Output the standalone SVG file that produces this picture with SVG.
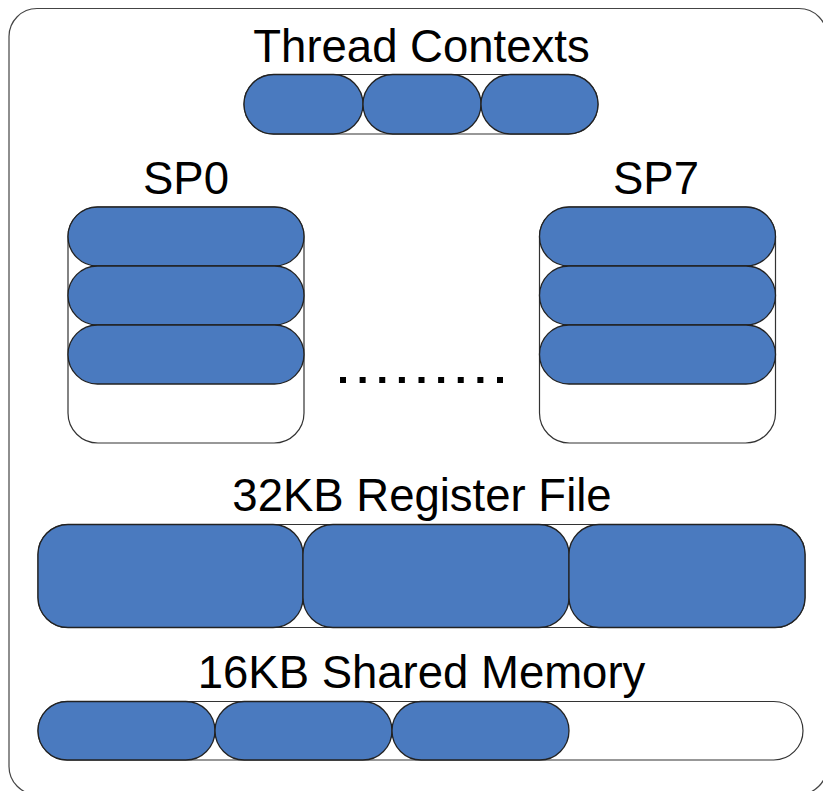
<svg xmlns="http://www.w3.org/2000/svg" width="823" height="791" viewBox="0 0 823 791">
<style>
.bg{fill:#ffffff}
.frame{fill:none;stroke:#444;stroke-width:1.2}
.box{fill:#ffffff;stroke:#333;stroke-width:1.2}
.pill{fill:#4a7abf;stroke:#222;stroke-width:1.3}
.lbl{font-family:"Liberation Sans",Arial,sans-serif;font-size:45.5px;fill:#000;text-anchor:middle}
</style>
<rect class="bg" x="0" y="0" width="823" height="791"/>
<g id="frame"><rect class="frame" x="9" y="8.5" width="818" height="786" rx="28"/></g>
<g id="thread-contexts">
<text class="lbl" x="421.5" y="62">Thread Contexts</text>
<rect class="box" x="244" y="74.5" width="354" height="59.5" rx="29.75"/>
<rect class="pill" x="244" y="74.5" width="119" height="59.5" rx="29.75"/>
<rect class="pill" x="363" y="74.5" width="118" height="59.5" rx="29.75"/>
<rect class="pill" x="481" y="74.5" width="117" height="59.5" rx="29.75"/>
</g>
<g id="sp0">
<text class="lbl" x="186" y="194">SP0</text>
<rect class="box" x="68" y="207" width="236" height="236" rx="30"/>
<rect class="pill" x="68" y="207" width="236" height="59" rx="29.5"/>
<rect class="pill" x="68" y="266" width="236" height="59" rx="29.5"/>
<rect class="pill" x="68" y="325" width="236" height="59" rx="29.5"/>
</g>
<g id="sp7">
<text class="lbl" x="656" y="194">SP7</text>
<rect class="box" x="539.5" y="207" width="236" height="236" rx="30"/>
<rect class="pill" x="539.5" y="207" width="236" height="59" rx="29.5"/>
<rect class="pill" x="539.5" y="266" width="236" height="59" rx="29.5"/>
<rect class="pill" x="539.5" y="325" width="236" height="59" rx="29.5"/>
</g>
<g id="ellipsis"><line x1="340" y1="380" x2="503" y2="380" stroke="#000" stroke-width="6" stroke-dasharray="6 13.625"/></g>
<g id="register-file">
<text class="lbl" x="422" y="511">32KB Register File</text>
<rect class="box" x="38" y="524.5" width="767" height="103" rx="30"/>
<rect class="pill" x="38" y="524.5" width="265" height="103" rx="30"/>
<rect class="pill" x="303" y="524.5" width="266" height="103" rx="30"/>
<rect class="pill" x="569" y="524.5" width="236" height="103" rx="30"/>
</g>
<g id="shared-memory">
<text class="lbl" x="421.5" y="688">16KB Shared Memory</text>
<rect class="box" x="38" y="701.5" width="765" height="58.5" rx="29.25"/>
<rect class="pill" x="38" y="701.5" width="177" height="58.5" rx="29.25"/>
<rect class="pill" x="215" y="701.5" width="177" height="58.5" rx="29.25"/>
<rect class="pill" x="392" y="701.5" width="177" height="58.5" rx="29.25"/>
</g>
<g id="connectors"/>
</svg>
